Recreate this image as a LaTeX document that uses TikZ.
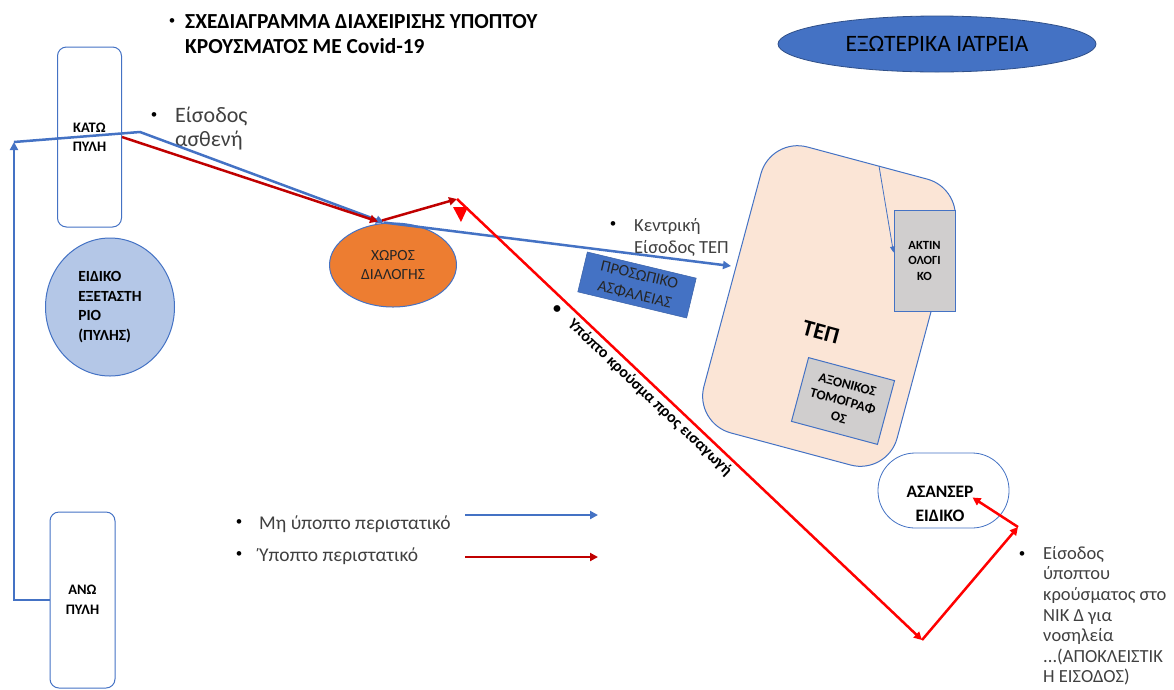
\documentclass[tikz,border=0pt]{standalone}
\usepackage{fontspec}
\setmainfont{Carlito}
\usetikzlibrary{arrows.meta,shapes.geometric}
\definecolor{bl}{HTML}{4472C4}
\definecolor{lbl}{HTML}{B4C7E7}
\definecolor{drd}{HTML}{C00000}
\definecolor{rd}{HTML}{FF0000}
\definecolor{org}{HTML}{ED7D31}
\definecolor{peach}{HTML}{FBE5D6}
\definecolor{gry}{HTML}{D0CECE}
\definecolor{txt}{HTML}{404040}
\newcommand\myfs[2]{\fontsize{#1}{#2}\selectfont}
\begin{document}
\begin{tikzpicture}[x=1pt,y=-1pt,
 gate/.style={draw=bl,line width=1pt,rounded corners=9pt,minimum width=64pt,inner sep=0pt,align=center,font=\bfseries\myfs{14.5}{19}},
 grybox/.style={draw=bl,line width=1pt,fill=gry,inner sep=0pt,align=center},
 bul/.style={inner sep=0pt,font=\myfs{13}{13},text=black},
 txtg/.style={inner sep=0pt,align=left,text=txt},
 tip/.style={-{Triangle[length=8pt,width=8pt]}},
 bline/.style={draw=bl,line width=2.5pt,tip},
 rline/.style={draw=rd,line width=2.5pt,tip},
 drline/.style={draw=drd,line width=2.5pt,tip},
]
\useasboundingbox (0,0) rectangle (1174,689);
% title
\node[bul] (tb) at (172,22) {•};
\node[inner sep=0pt,anchor=west,align=left,font=\bfseries\myfs{21.4}{25}] (title) at (185,34.5) {ΣΧΕΔΙΑΓΡΑΜΜΑ ΔΙΑΧΕΙΡΙΣΗΣ ΥΠΟΠΤΟΥ\\ΚΡΟΥΣΜΑΤΟΣ ΜΕ Covid-19};
% outpatient
\node[ellipse,draw=bl!70!black,line width=0.8pt,fill=bl,minimum width=318pt,minimum height=56pt,inner sep=0pt,font=\myfs{23.5}{23.5}] (exo) at (937,44) {ΕΞΩΤΕΡΙΚΑ ΙΑΤΡΕΙΑ};
% gates
\node[gate,minimum height=180pt] (kato) at (89.5,137) {ΚΑΤΩ\\ΠΥΛΗ};
\node[gate,minimum height=176pt,minimum width=65pt,font=\bfseries\myfs{14.5}{20}] (ano) at (82.5,600) {ΑΝΩ\\ΠΥΛΗ};
% special exam room
\node[ellipse,draw=bl,line width=1pt,fill=lbl,minimum width=129pt,minimum height=138pt,inner sep=0pt,align=left,font=\bfseries\myfs{15.5}{19.5}] (eid) at (110,307) {ΕΙΔΙΚΟ\\ΕΞΕΤΑΣΤΗ\\ΡΙΟ\\(ΠΥΛΗΣ)};
% triage
\node[ellipse,draw=bl,line width=1pt,fill=org,minimum width=127pt,minimum height=84pt,inner sep=0pt,align=center,text=black!85,font=\myfs{15.5}{19}] (chor) at (393,265) {ΧΩΡΟΣ\\ΔΙΑΛΟΓΗΣ};
% TEP
\node[draw=bl,line width=1pt,fill=peach,rounded corners=38pt,minimum width=200pt,minimum height=296pt,rotate=-15] (tep) at (829,306) {};
\node[rotate=-15,font=\bfseries\myfs{23}{23},inner sep=0pt] (teplabel) at (821,332) {ΤΕΠ};
\node[grybox,minimum width=61pt,minimum height=101pt,font=\bfseries\myfs{12.5}{15.5}] (akt) at (924.5,260.5) {ΑΚΤΙΝ\\ΟΛΟΓΙ\\ΚΟ};
\node[grybox,minimum width=89pt,minimum height=66pt,rotate=-15,font=\bfseries\myfs{13.5}{17}] (axo) at (843,401) {ΑΞΟΝΙΚΟΣ\\ΤΟΜΟΓΡΑΦ\\ΟΣ};
% security
\node[draw=bl!85!black,line width=0.5pt,fill=bl,minimum width=112pt,minimum height=41pt,inner sep=0pt,rotate=-13.5,align=center,text=black!85,font=\myfs{16}{20}] (sec) at (637,285) {ΠΡΟΣΩΠΙΚΟ\\ΑΣΦΑΛΕΙΑΣ};
% lift
\node[draw=bl,line width=0.8pt,fill=white,rounded corners=37pt,minimum width=131pt,minimum height=75pt] (asn) at (943.5,490.5) {};
\node[inner sep=0pt,align=center,font=\bfseries\myfs{17.5}{24}] (asntxt) at (940,504) {ΑΣΑΝΣΕΡ\\ΕΙΔΙΚΟ};
% texts
\node[bul] (b1) at (154,116) {•};
\node[txtg,anchor=west,font=\myfs{22}{24}] (eisodos) at (175,129) {Είσοδος\\ασθενή};
\node[bul] (b2) at (613,225) {•};
\node[txtg,anchor=west,font=\myfs{18.5}{22}] (kent) at (634,237) {Κεντρική\\Είσοδος ΤΕΠ};
\node[bul] (b3) at (1022,555) {•};
\node[txtg,anchor=north west,font=\myfs{18.5}{20.6}] (nik) at (1043,546) {Είσοδος\\ύποπτου\\κρούσματος στο\\ΝΙΚ Δ για\\νοσηλεία\\...(ΑΠΟΚΛΕΙΣΤΙΚ\\Η ΕΙΣΟΔΟΣ)};
% legend
\node[bul] (lb1) at (239,523) {•};
\node[txtg,anchor=west,font=\myfs{19.5}{19.5}] (leg1) at (259,524) {Μη ύποπτο περιστατικό};
\node[bul] (lb2) at (239,555) {•};
\node[txtg,anchor=west,font=\myfs{19.5}{19.5}] (leg2) at (259,556) {Ύποπτο περιστατικό};
\coordinate (l1a) at (465,515);
\coordinate (l1b) at (598,515);
\coordinate (l2a) at (465,557);
\coordinate (l2b) at (598,557);
\draw[bline,line width=2pt] (l1a) -- (l1b);
\draw[drline,line width=2pt] (l2a) -- (l2b);
% blue connectors
\coordinate (bA) at (14,600);
\coordinate (bB) at (14,142);
\coordinate (bC) at (140,132);
\coordinate (bD) at ([xshift=-9pt]chor.north);
\coordinate (bE) at (731,266);
\draw[bline] (ano.west) -- (bA) -- (bB);
\draw[bline] (bB) -- (bC) -- (bD);
\draw[bline] (bD) -- (bE);
\coordinate (tA) at (879,166);
\draw[draw=bl,line width=0.8pt,-{Triangle[length=6pt,width=5pt]}] (tA) -- ([yshift=8pt]akt.west);
% red connectors
\coordinate (rA) at ([xshift=-15pt,yshift=1pt]chor.north);
\coordinate (rB) at ([xshift=-11pt,yshift=2pt]chor.north);
\coordinate (rC) at (457,199);
\coordinate (rD) at (922,640);
\coordinate (rE) at (1018,527);
\coordinate (rF) at ([xshift=29pt,yshift=-7pt]asn.center);
\draw[drline] (kato.east) -- (rA);
\draw[drline] (rB) -- (rC);
\draw[rline] (rC) -- node[sloped,below,pos=0.414,inner sep=3pt,font=\bfseries\myfs{16}{16}] (susp) {•\hspace{14pt}Υπόπτο κρούσμα προς εισαγωγή} (rD);
\draw[rline] (rD) -- (rE);
\draw[rline] (rE) -- (rF);
\fill[rd] (453,207) -- (468,207) -- (461,222) -- cycle;
\end{tikzpicture}
\end{document}
